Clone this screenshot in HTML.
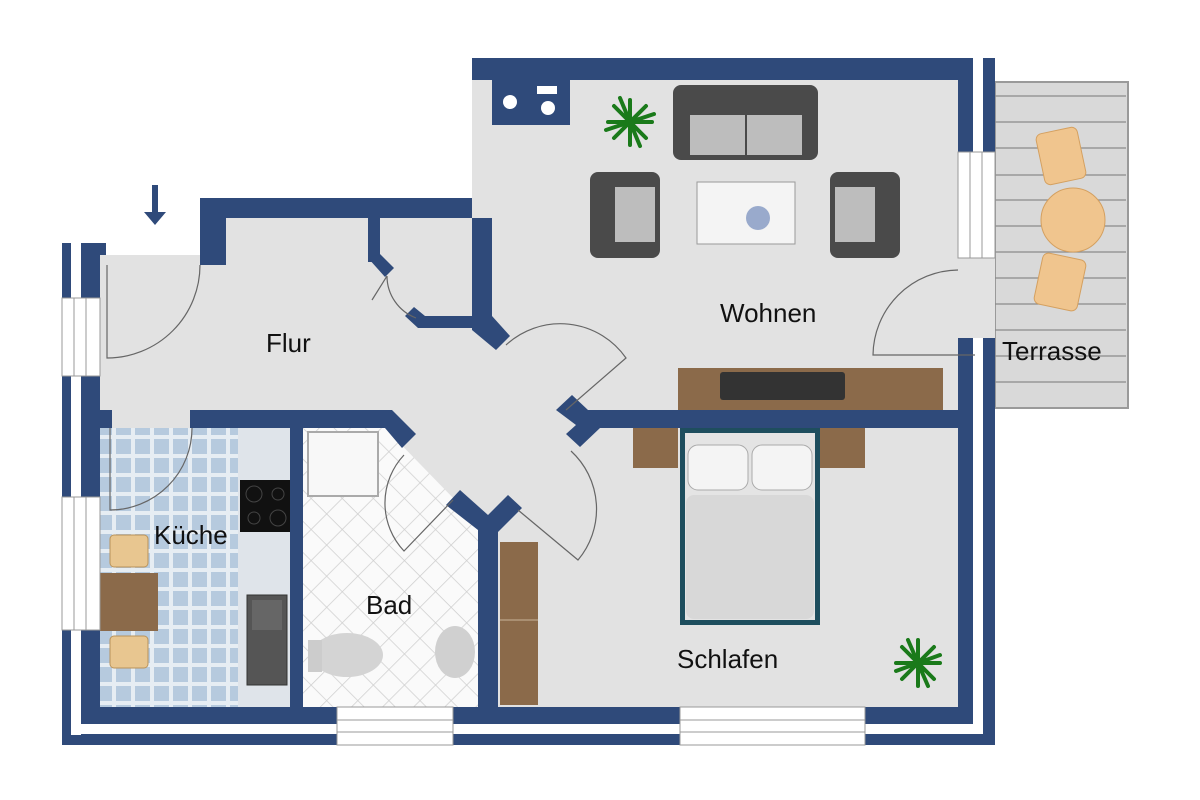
<!DOCTYPE html>
<html><head><meta charset="utf-8"><style>
html,body{margin:0;padding:0;background:#fff;width:1200px;height:800px;overflow:hidden}
svg{display:block}
text{font-family:"Liberation Sans",sans-serif;font-size:26px;fill:#111}
</style></head><body>
<svg width="1200" height="800" viewBox="0 0 1200 800" xmlns="http://www.w3.org/2000/svg">
<defs>
<pattern id="tile" width="19" height="19" patternUnits="userSpaceOnUse">
<rect width="19" height="19" fill="#e6edf3"/>
<rect x="2" y="2" width="15" height="15" fill="#b6cade"/>
</pattern>
<pattern id="bath" width="22" height="22" patternUnits="userSpaceOnUse" patternTransform="rotate(45)">
<rect width="22" height="22" fill="#fafafa"/>
<path d="M0 0H22M0 0V22" stroke="#cfcfcf" stroke-width="1.5"/>
</pattern>
</defs>

<!-- terrace -->
<rect x="995" y="82" width="133" height="326" fill="#d9d9d9" stroke="#9a9a9a" stroke-width="2"/>
<g stroke="#8a8a8a" stroke-width="1.2">
<line x1="995" y1="96" x2="1126" y2="96"/><line x1="995" y1="122" x2="1126" y2="122"/>
<line x1="995" y1="148" x2="1126" y2="148"/><line x1="995" y1="175" x2="1126" y2="175"/>
<line x1="995" y1="200" x2="1126" y2="200"/><line x1="995" y1="226" x2="1126" y2="226"/>
<line x1="995" y1="252" x2="1126" y2="252"/><line x1="995" y1="278" x2="1126" y2="278"/>
<line x1="995" y1="304" x2="1126" y2="304"/><line x1="995" y1="330" x2="1126" y2="330"/>
<line x1="995" y1="356" x2="1126" y2="356"/><line x1="995" y1="382" x2="1126" y2="382"/>
</g>
<g fill="#f0c58e" stroke="#d4a060">
<rect x="1040" y="130" width="42" height="52" rx="6" transform="rotate(-12 1061 156)"/>
<circle cx="1073" cy="220" r="32"/>
<rect x="1038" y="256" width="44" height="52" rx="6" transform="rotate(12 1060 282)"/>
</g>

<!-- building wall mass -->
<polygon points="62,243 106,243 106,255 200,255 200,198 472,198 472,58 995,58 995,745 62,745" fill="#2f4a7a"/>
<g fill="#fff">
<rect x="71" y="243" width="10" height="492"/>
<rect x="71" y="724" width="912" height="10"/>
<rect x="973" y="58" width="10" height="676"/>
</g>

<!-- main floor -->
<polygon points="100,255 200,255 200,265 226,265 226,218 472,218 472,80 958,80 958,707 100,707" fill="#e2e2e2"/>
<rect x="958" y="258" width="37" height="80" fill="#e2e2e2"/>

<!-- kitchen -->
<rect x="100" y="428" width="190" height="279" fill="url(#tile)"/>
<rect x="238" y="428" width="52" height="279" fill="#dfe4ea"/>
<rect x="240" y="480" width="52" height="52" fill="#111"/>
<g fill="none" stroke="#444"><circle cx="254" cy="494" r="8"/><circle cx="278" cy="494" r="6"/><circle cx="254" cy="518" r="6"/><circle cx="278" cy="518" r="8"/></g>
<rect x="247" y="595" width="40" height="90" fill="#555" stroke="#333"/>
<rect x="252" y="600" width="30" height="30" fill="#666"/>
<rect x="100" y="573" width="58" height="58" fill="#8b6a4a"/>
<rect x="110" y="535" width="38" height="32" rx="4" fill="#e8c690" stroke="#b9935a"/>
<rect x="110" y="636" width="38" height="32" rx="4" fill="#e8c690" stroke="#b9935a"/>

<!-- bath -->
<polygon points="303,428 385,428 455,500 478,520 478,707 303,707" fill="url(#bath)"/>
<rect x="308" y="432" width="70" height="64" fill="#f8f8f8" stroke="#aaa" stroke-width="2"/>
<ellipse cx="347" cy="655" rx="36" ry="22" fill="#d4d4d4"/>
<rect x="308" y="640" width="14" height="32" fill="#ccc"/>
<ellipse cx="455" cy="652" rx="20" ry="26" fill="#d0d0d0"/>

<!-- bedroom furniture -->
<rect x="500" y="542" width="38" height="163" fill="#8b6a4a"/>
<line x1="500" y1="620" x2="538" y2="620" stroke="#c9b49a"/>
<rect x="633" y="428" width="45" height="40" fill="#8b6a4a"/>
<rect x="820" y="428" width="45" height="40" fill="#8b6a4a"/>
<rect x="680" y="428" width="140" height="197" fill="#1e4e5e"/>
<rect x="685" y="433" width="130" height="187" fill="#e4e4e4"/>
<rect x="688" y="445" width="60" height="45" rx="10" fill="#f4f4f4" stroke="#aaa"/>
<rect x="752" y="445" width="60" height="45" rx="10" fill="#f4f4f4" stroke="#aaa"/>
<rect x="686" y="495" width="128" height="124" rx="8" fill="#d8d8d8"/>

<!-- living furniture -->
<rect x="678" y="368" width="265" height="42" fill="#8b6a4a"/>
<rect x="720" y="372" width="125" height="28" rx="3" fill="#333"/>
<rect x="673" y="85" width="145" height="75" rx="8" fill="#4a4a4a"/>
<rect x="690" y="115" width="55" height="40" fill="#bdbdbd"/><rect x="747" y="115" width="55" height="40" fill="#bdbdbd"/>
<rect x="590" y="172" width="70" height="86" rx="8" fill="#4a4a4a"/>
<rect x="615" y="187" width="40" height="55" fill="#bdbdbd"/>
<rect x="830" y="172" width="70" height="86" rx="8" fill="#4a4a4a"/>
<rect x="835" y="187" width="40" height="55" fill="#bdbdbd"/>
<rect x="697" y="182" width="98" height="62" fill="#f4f4f4" stroke="#999"/>
<circle cx="758" cy="218" r="12" fill="#9ac"/>
<g stroke="#1a7a1a" stroke-width="4" stroke-linecap="round">
<path d="M630 100L630 145M608 122L652 122M614 106L646 138M614 138L646 106M620 98L640 146M606 130L654 114"/>
<path d="M918 640L918 686M896 663L940 663M902 647L934 679M902 679L934 647M908 640L928 686M896 671L940 655"/>
</g>

<!-- walls (interior) -->
<g fill="#2f4a7a">
<rect x="200" y="198" width="26" height="67"/>
<rect x="368" y="218" width="12" height="44"/>
<polygon points="368,258 380,254 394,268 385,277"/>
<polygon points="405,316 414,307 425,316 472,316 472,328 418,328"/>
<rect x="472" y="218" width="20" height="102"/>
<polygon points="472,316 492,316 510,336 496,350 472,330"/>
<rect x="492" y="80" width="78" height="45"/>
<rect x="100" y="410" width="12" height="18"/>
<polygon points="190,410 392,410 416,434 402,448 385,428 190,428"/>
<rect x="290" y="428" width="13" height="279"/>
<polygon points="446,505 460,490 488,515 508,495 522,508 498,532 498,707 478,707 478,530"/>
<polygon points="556,410 572,395 588,410 958,410 958,428 600,428 580,447 566,434 576,425"/>
</g>
<g fill="#fff"><circle cx="510" cy="102" r="7"/><circle cx="548" cy="108" r="7"/><rect x="537" y="86" width="20" height="8"/></g>

<!-- windows -->
<g fill="#fff" stroke="#999" stroke-width="1">
<rect x="62" y="298" width="38" height="78"/><line x1="74" y1="298" x2="74" y2="376"/><line x1="86" y1="298" x2="86" y2="376"/>
<rect x="62" y="497" width="38" height="133"/><line x1="74" y1="497" x2="74" y2="630"/><line x1="86" y1="497" x2="86" y2="630"/>
<rect x="958" y="152" width="37" height="106"/><line x1="970" y1="152" x2="970" y2="258"/><line x1="982" y1="152" x2="982" y2="258"/>
<rect x="337" y="707" width="116" height="38"/><line x1="337" y1="720" x2="453" y2="720"/><line x1="337" y1="732" x2="453" y2="732"/>
<rect x="680" y="707" width="185" height="38"/><line x1="680" y1="720" x2="865" y2="720"/><line x1="680" y1="732" x2="865" y2="732"/>
</g>

<!-- doors -->
<g fill="none" stroke="#666" stroke-width="1.2">
<path d="M200,265 A93,93 0 0 1 107,358 L107,265"/>
<path d="M192,428 A82,82 0 0 1 110,510 L110,428"/>
<path d="M387,276 A45,45 0 0 0 416,318 M387,276 L372,300"/>
<path d="M506,345 A80,80 0 0 1 626,358 L566,410"/>
<path d="M571,451 A79,79 0 0 1 578,560 L518,510"/>
<path d="M404,455 A70,70 0 0 0 404,551 L453,500"/>
<path d="M958,270 A86,86 0 0 0 873,355 L975,355"/>
</g>

<path d="M152,185 L158,185 L158,212 L166,212 L155,225 L144,212 L152,212 Z" fill="#2f4a7a"/>

<text x="266" y="352">Flur</text>
<text x="720" y="322">Wohnen</text>
<text x="154" y="544">Küche</text>
<text x="366" y="614">Bad</text>
<text x="677" y="668">Schlafen</text>
<text x="1002" y="360">Terrasse</text>
</svg>
</body></html>
